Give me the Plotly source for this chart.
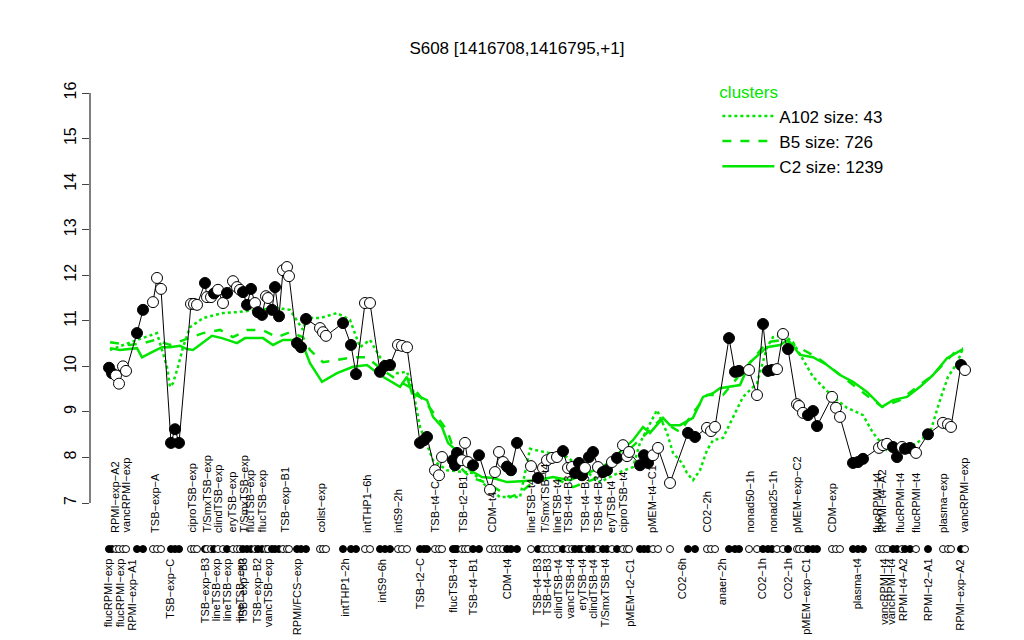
import plotly.graph_objects as go

# sample positions (horizontal plot units), expression values, filled marker flag
pt_x = [109, 112, 116, 119, 123, 126, 137, 143, 153, 157, 161, 171, 175, 179,
        191, 194, 197, 205, 207, 211, 214, 218, 223, 227, 233, 237, 240, 243,
        247, 251, 255, 258, 262, 266, 268, 272, 275, 279, 283, 287, 289,
        297, 301, 306, 320, 323, 326, 343, 351, 356, 365, 370, 380, 385, 390,
        398, 402, 407, 420, 424, 427, 435, 439, 442, 453, 455, 457, 462, 465,
        468, 473, 479, 490, 495, 499, 503, 507, 511, 517, 531, 538, 543, 547,
        552, 557, 563, 568, 572, 575, 579, 582, 585, 589, 593, 598, 603, 607,
        612, 617, 623, 627, 629, 640, 644, 648, 653, 658, 670, 688, 695, 707,
        711, 715, 729, 735, 739, 749, 757, 763, 768, 772, 777, 783, 788, 797,
        799, 803, 808, 813, 817, 832, 836, 840, 853, 858, 863, 879, 883, 887,
        893, 897, 902, 905, 910, 916, 928, 943, 948, 951, 961, 965]
pt_y = [9.97, 9.85, 9.80, 9.62, 10.00, 9.90, 10.73, 11.24, 11.41, 11.94, 11.70,
        8.32, 8.62, 8.32, 11.37, 11.37, 11.35, 11.83, 11.52, 11.52, 11.60, 11.68,
        11.39, 11.61, 11.87, 11.74, 11.68, 11.63, 11.35, 11.70, 11.39, 11.19,
        11.13, 11.54, 11.50, 11.24, 11.74, 11.10, 12.11, 12.18, 11.98,
        10.51, 10.42, 11.04, 10.84, 10.75, 10.67, 10.95, 10.47, 9.83, 11.39,
        11.39, 9.88, 10.01, 10.03, 10.47, 10.45, 10.42, 8.32, 8.38, 8.45, 7.72,
        7.61, 8.01, 7.94, 7.83, 8.10, 7.94, 8.32, 7.90, 7.83, 8.05, 7.29, 7.68,
        8.12, 7.90, 7.80, 7.72, 8.32, 7.81, 7.55, 7.77, 7.94, 7.99, 8.01, 8.14,
        7.77, 7.79, 7.66, 7.88, 7.61, 7.77, 8.01, 8.12, 7.79, 7.68, 7.72, 7.90,
        7.99, 8.27, 8.03, 8.12, 7.83, 8.05, 7.88, 8.05, 8.21, 7.44, 8.54, 8.45,
        8.65, 8.58, 8.67, 10.62, 9.88, 9.90, 9.92, 9.37, 10.93, 9.90, 9.92, 9.94,
        10.71, 10.38, 9.17, 9.13, 8.98, 8.93, 9.02, 8.69, 9.33, 9.09, 8.89, 7.88,
        7.90, 7.97, 8.21, 8.27, 8.30, 8.23, 8.01, 8.23, 8.19, 8.21, 8.10, 8.51,
        8.76, 8.73, 8.67, 10.03, 9.92]
pt_filled = [1, 1, 0, 0, 0, 0, 1, 1, 0, 0, 0, 1, 1, 1,
             0, 0, 0, 1, 0, 0, 1, 0, 0, 1, 0, 0, 0, 1,
             1, 1, 0, 1, 1, 0, 0, 1, 1, 1, 0, 0, 0,
             1, 1, 1, 0, 0, 0, 1, 1, 1, 0, 0, 1, 1, 1,
             0, 0, 0, 1, 1, 1, 0, 0, 0, 1, 1, 1, 0, 0,
             0, 1, 1, 0, 0, 0, 0, 1, 1, 1, 0, 1, 0, 0,
             0, 0, 1, 0, 0, 1, 1, 1, 0, 1, 1, 0, 1, 1,
             0, 1, 0, 0, 0, 1, 1, 1, 0, 0, 0, 1, 1, 0,
             0, 0, 1, 1, 1, 0, 0, 1, 1, 1, 0, 0, 1, 0,
             0, 0, 1, 1, 1, 0, 0, 0, 1, 1, 1, 0, 0, 0,
             1, 1, 0, 1, 1, 0, 1, 0, 0, 0, 1, 0]

# cluster profiles
c2_x = [110, 120, 137, 142, 152, 162, 170, 180, 187, 193, 212, 222, 237, 245,
        263, 273, 283, 295, 303, 310, 322, 337, 353, 367, 380, 400, 407, 412,
        427, 433, 442, 448, 458, 470, 482, 493, 507, 520, 537, 553, 570, 587,
        603, 620, 633, 643, 650, 663, 670, 680, 693, 703, 713, 720, 740, 750,
        760, 767, 780, 788, 800, 813, 827, 840, 853, 867, 882, 893, 907, 920,
        933, 947, 963]
c2_y = [10.40, 10.36, 10.40, 10.20, 10.31, 10.42, 10.42, 10.45, 10.38, 10.36,
        10.67, 10.62, 10.51, 10.62, 10.62, 10.47, 10.58, 10.58, 10.47, 10.07,
        9.66, 9.85, 9.99, 10.03, 9.81, 9.55, 9.77, 9.41, 9.26, 8.89, 8.67, 8.32,
        8.12, 7.72, 7.57, 7.55, 7.46, 7.48, 7.50, 7.57, 7.50, 7.66, 7.79, 8.12,
        8.38, 8.67, 8.54, 8.87, 8.71, 8.71, 8.87, 9.33, 9.41, 9.52, 9.59, 10.09,
        10.29, 10.42, 10.47, 10.58, 10.25, 10.20, 10.03, 9.81, 9.66, 9.44, 9.11,
        9.26, 9.33, 9.55, 9.81, 10.18, 10.38]
b5_x = [110, 130, 143, 155, 170, 203, 220, 233, 247, 262, 277, 290, 303, 310,
        323, 337, 353, 367, 380, 400, 415, 437, 447, 460, 470, 487, 510, 520,
        533, 553, 573, 600, 627, 647, 660, 680, 693, 707, 723, 750, 767, 783,
        800, 817, 840, 860, 882, 900, 933, 957, 963]
b5_y = [10.53, 10.47, 10.51, 10.58, 10.47, 10.73, 10.80, 10.64, 10.80, 10.80,
        10.64, 10.75, 10.64, 10.36, 10.09, 10.14, 10.20, 10.20, 9.96, 9.66, 9.48,
        8.89, 8.60, 7.79, 7.57, 7.44, 7.13, 7.22, 7.46, 7.57, 7.35, 7.57, 8.12,
        8.54, 8.82, 8.56, 8.98, 9.37, 9.37, 10.07, 10.53, 10.58, 10.40, 10.20,
        9.81, 9.48, 9.11, 9.26, 9.81, 10.36, 10.40]
a102_x = [110, 123, 137, 157, 167, 170, 173, 178, 183, 190, 203, 223, 237, 257,
          277, 290, 303, 307, 320, 337, 350, 360, 370, 380, 397, 407, 413, 420,
          433, 447, 473, 487, 500, 520, 530, 567, 600, 620, 633, 640, 657, 667,
          673, 682, 687, 693, 700, 707, 713, 723, 733, 743, 757, 767, 773, 783,
          793, 807, 813, 833, 847, 863, 873, 887, 900, 917, 930, 940, 948, 957,
          963]
a102_y = [10.36, 10.47, 10.58, 10.73, 9.99, 9.55, 9.63, 9.99, 10.42, 10.86,
          11.06, 11.17, 11.19, 11.24, 11.28, 11.24, 10.80, 11.06, 11.06, 11.17,
          11.02, 10.42, 10.58, 10.20, 9.85, 9.88, 9.48, 8.67, 7.94, 7.72, 7.66,
          7.35, 7.13, 7.13, 8.19, 8.01, 7.46, 7.68, 7.79, 8.32, 9.04, 8.54, 8.10,
          7.88, 7.66, 7.50, 7.72, 8.16, 8.38, 8.43, 8.89, 9.33, 9.63, 10.42,
          10.64, 10.69, 10.53, 9.99, 9.77, 9.33, 9.09, 8.93, 8.54, 8.16, 8.12,
          8.32, 8.54, 9.26, 9.77, 10.07, 10.40]

top_label_x = [115, 126, 155, 192, 207, 218, 232, 244, 250, 262, 285, 321, 367,
               398, 435, 463, 492, 531, 545, 557, 568, 585, 598, 611, 623, 652,
               707, 750, 773, 797, 832, 877, 882, 900, 916, 943, 964]
top_labels = ["RPMI\u2212exp\u2212A2", "vancRPMI\u2212exp", "TSB\u2212exp\u2212A",
              "ciproTSB\u2212exp", "T/SmxTSB\u2212exp", "clindTSB\u2212exp",
              "eryTSB\u2212exp", "T/SmxTSB\u2212exp", "flucTSB\u2212exp",
              "flucTSB\u2212exp", "TSB\u2212exp\u2212B1", "colist\u2212exp",
              "intTHP1\u22126h", "intS9\u22122h", "TSB\u2212t4\u2212C",
              "TSB\u2212t2\u2212B1", "CDM\u2212t4", "lineTSB\u2212t4",
              "T/SmxTSB\u2212t4", "lineTSB\u2212t4", "TSB\u2212t4\u2212B3",
              "TSB\u2212t4\u2212B3", "TSB\u2212t4\u2212B3", "eryTSB\u2212t4",
              "ciproTSB\u2212t4", "pMEM\u2212t4\u2212C1", "CO2\u22122h",
              "nonad50\u22121h", "nonad25\u22121h", "pMEM\u2212exp\u2212C2",
              "CDM\u2212exp", "flucRPMI\u2212t4", "RPMI\u2212t4\u2212A2",
              "flucRPMI\u2212t4", "flucRPMI\u2212t4", "plasma\u2212exp",
              "vancRPMI\u2212exp"]
bottom_label_x = [108, 120, 132, 170, 205, 216, 227, 240, 243, 257, 268, 297,
                  345, 382, 420, 453, 473, 507, 537, 547, 558, 570, 582, 593,
                  605, 630, 682, 722, 762, 788, 806, 857, 884, 891, 903, 928,
                  960]
bottom_labels = ["flucRPMI\u2212exp", "flucRPMI\u2212exp", "RPMI\u2212exp\u2212A1",
                 "TSB\u2212exp\u2212C", "TSB\u2212exp\u2212B3", "lineTSB\u2212exp",
                 "lineTSB\u2212exp", "lineTSB\u2212exp", "TSB\u2212exp\u2212B3",
                 "TSB\u2212exp\u2212B2", "vancTSB\u2212exp", "RPMI/FCS\u2212exp",
                 "intTHP1\u22122h", "intS9\u22126h", "TSB\u2212t2\u2212C",
                 "flucTSB\u2212t4", "TSB\u2212t4\u2212B1", "CDM\u2212t4",
                 "TSB\u2212t4\u2212B3", "TSB\u2212t4\u2212B3", "clindTSB\u2212t4",
                 "vancTSB\u2212t4", "eryTSB\u2212t4", "clindTSB\u2212t4",
                 "T/SmxTSB\u2212t4", "pMEM\u2212t2\u2212C1", "CO2\u22126h",
                 "anaer\u22122h", "CO2\u22121h", "CO2\u22121h", "pMEM\u2212exp\u2212C1",
                 "plasma\u2212t4", "vancRPMI\u2212t4", "vancRPMI\u2212t4",
                 "RPMI\u2212t4\u2212A2", "RPMI\u2212t2\u2212A1", "RPMI\u2212exp\u2212A2"]

GREEN = "#00e600"
FONT = "Liberation Sans, Arial, sans-serif"
STRIP_Y = 5.99
TOP_LABEL_Y = 6.30
BOTTOM_LABEL_Y = 5.82

# the page body adds an 8px offset, margins below compensate for it
PX_PER_UNIT = 45.56
Y_LOW = 16 - 555 / PX_PER_UNIT

fill_colors = ["black" if f else "white" for f in pt_filled]

fig = go.Figure()

fig.add_trace(go.Scatter(x=a102_x, y=a102_y, mode="lines", name="A102 size: 43",
                         line=dict(color=GREEN, width=2.5, dash="dot")))
fig.add_trace(go.Scatter(x=b5_x, y=b5_y, mode="lines", name="B5 size: 726",
                         line=dict(color=GREEN, width=2.5, dash="dash")))
fig.add_trace(go.Scatter(x=c2_x, y=c2_y, mode="lines", name="C2 size: 1239",
                         line=dict(color=GREEN, width=2.5)))

# sample profile
fig.add_trace(go.Scatter(
    x=pt_x, y=pt_y, mode="lines+markers", showlegend=False,
    line=dict(color="black", width=1),
    marker=dict(size=11, color=fill_colors, line=dict(color="black", width=1)),
))

# strip of sample markers under the plot
fig.add_trace(go.Scatter(
    x=pt_x, y=[STRIP_Y] * len(pt_x), mode="markers", showlegend=False,
    marker=dict(size=7, color=fill_colors, line=dict(color="black", width=1)),
    cliponaxis=False,
))

for x, txt in zip(top_label_x, top_labels):
    fig.add_annotation(x=x, y=TOP_LABEL_Y, text=txt, textangle=-90,
                       showarrow=False, xanchor="center", yanchor="bottom",
                       font=dict(size=11, color="black", family=FONT))
for x, txt in zip(bottom_label_x, bottom_labels):
    fig.add_annotation(x=x, y=BOTTOM_LABEL_Y, text=txt, textangle=-90,
                       showarrow=False, xanchor="center", yanchor="top",
                       font=dict(size=11, color="black", family=FONT))

# y axis line spanning only the tick range
fig.add_shape(type="line", xref="paper", x0=0, x1=0, yref="y", y0=7, y1=16,
              line=dict(color="black", width=1))

fig.update_layout(
    width=1024, height=640,
    margin=dict(l=82, r=0, t=85, b=0),
    paper_bgcolor="white", plot_bgcolor="white",
    font=dict(family=FONT, color="black"),
    title=dict(text="S608 [1416708,1416795,+1]", x=0.497, xanchor="center",
               y=1 - 40 / 640, yanchor="middle", font=dict(size=17)),
    showlegend=True,
    legend=dict(
        title=dict(text="clusters", font=dict(color=GREEN, size=17), side="top"),
        x=0.666, y=1.03, xanchor="left", yanchor="top",
        font=dict(size=17), bgcolor="rgba(0,0,0,0)", itemwidth=52,
        tracegroupgap=0,
    ),
)
fig.update_xaxes(range=[90, 1032], visible=False)
fig.update_yaxes(range=[Y_LOW, 16], tickvals=list(range(7, 17)), ticks="outside",
                 ticklen=7, tickangle=-90, showgrid=False, zeroline=False,
                 showline=False, tickfont=dict(size=16))

fig.write_html("out.html")
